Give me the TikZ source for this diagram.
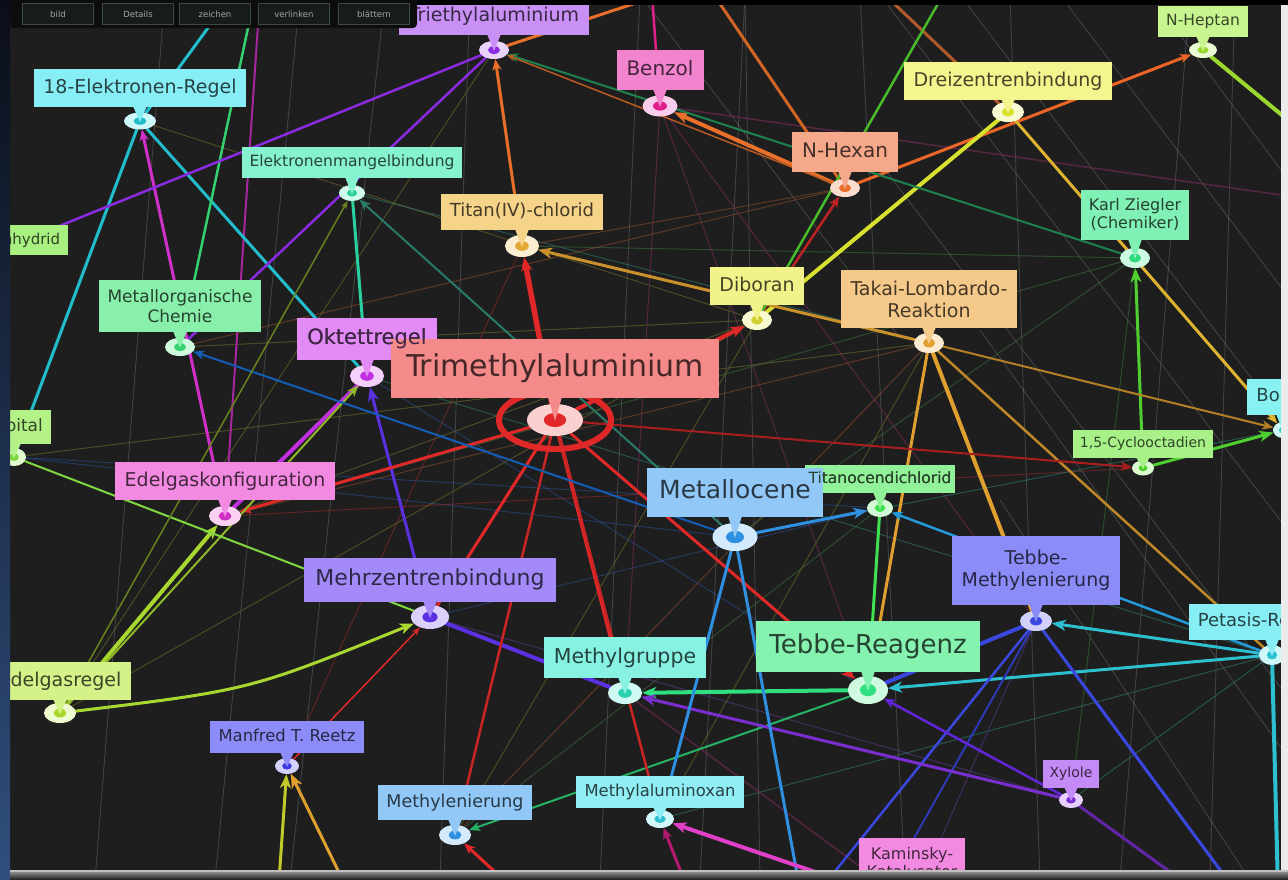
\documentclass[tikz,border=0pt]{standalone}
\usepackage{fontspec}
\setmainfont{DejaVu Sans}
\usetikzlibrary{shapes.geometric,arrows.meta}
\pgfdeclarelayer{bgl}\pgfdeclarelayer{edgel}\pgfdeclarelayer{fgl}
\pgfsetlayers{bgl,edgel,main,fgl}
\definecolor{panel}{HTML}{1E1E1E}
\definecolor{teaL}{HTML}{C890F5}\definecolor{teaD}{HTML}{8A2BE2}
\definecolor{e18L}{HTML}{88EEF5}\definecolor{e18D}{HTML}{22BCCB}
\definecolor{benzL}{HTML}{F283CF}\definecolor{benzD}{HTML}{E0208A}
\definecolor{hexL}{HTML}{F5A98A}\definecolor{hexD}{HTML}{E8702A}
\definecolor{dreiL}{HTML}{F5F590}\definecolor{dreiD}{HTML}{D8E030}
\definecolor{heptL}{HTML}{C9F590}\definecolor{heptD}{HTML}{9AD830}
\definecolor{emangL}{HTML}{86F2D0}\definecolor{emangD}{HTML}{2CCFA0}
\definecolor{titanL}{HTML}{F5D389}\definecolor{titanD}{HTML}{E0A830}
\definecolor{hydL}{HTML}{A8F080}\definecolor{hydD}{HTML}{60D040}
\definecolor{ziegL}{HTML}{80F0B4}\definecolor{ziegD}{HTML}{30D880}
\definecolor{morgL}{HTML}{88F0AA}\definecolor{morgD}{HTML}{36D070}
\definecolor{dibL}{HTML}{F2F28A}\definecolor{dibD}{HTML}{D0D030}
\definecolor{takaiL}{HTML}{F5C98A}\definecolor{takaiD}{HTML}{E0A030}
\definecolor{oktL}{HTML}{E28AF5}\definecolor{oktD}{HTML}{C030E0}
\definecolor{tmaL}{HTML}{F58A8A}\definecolor{tmaD}{HTML}{E02828}
\definecolor{orbL}{HTML}{B4F288}\definecolor{orbD}{HTML}{80D840}
\definecolor{boL}{HTML}{88F2F2}\definecolor{boD}{HTML}{30D0D0}
\definecolor{codL}{HTML}{A8F088}\definecolor{codD}{HTML}{50D030}
\definecolor{egkL}{HTML}{F28AE2}\definecolor{egkD}{HTML}{D030C8}
\definecolor{mcenL}{HTML}{92C8F8}\definecolor{mcenD}{HTML}{2F8FE0}
\definecolor{tcenL}{HTML}{92F29A}\definecolor{tcenD}{HTML}{40E050}
\definecolor{tebmL}{HTML}{8C8CF8}\definecolor{tebmD}{HTML}{3A48E0}
\definecolor{mehrL}{HTML}{A48AF8}\definecolor{mehrD}{HTML}{5A30E0}
\definecolor{petL}{HTML}{88EEF5}\definecolor{petD}{HTML}{2CC0D0}
\definecolor{tebrL}{HTML}{86F2B0}\definecolor{tebrD}{HTML}{30E080}
\definecolor{megrL}{HTML}{88F2E2}\definecolor{megrD}{HTML}{2CD0B0}
\definecolor{egrL}{HTML}{D4F288}\definecolor{egrD}{HTML}{A8D830}
\definecolor{reetzL}{HTML}{8C8CF8}\definecolor{reetzD}{HTML}{3A3AE0}
\definecolor{xylL}{HTML}{C48AF5}\definecolor{xylD}{HTML}{7A2ED0}
\definecolor{mlenL}{HTML}{92C8F8}\definecolor{mlenD}{HTML}{2F8FE0}
\definecolor{maoL}{HTML}{92EEF5}\definecolor{maoD}{HTML}{2CC0D0}
\definecolor{kamL}{HTML}{F28AE2}\definecolor{kamD}{HTML}{E040C8}
\definecolor{k1}{HTML}{6B6B2A}\definecolor{k2}{HTML}{2A7A6A}
\definecolor{k3}{HTML}{8A4A2A}\definecolor{k4}{HTML}{7A2A5A}
\definecolor{k5}{HTML}{2A4A8A}\definecolor{k6}{HTML}{3A6A3A}
\definecolor{k7}{HTML}{5A3A8A}\definecolor{k8}{HTML}{8A2A2A}
\definecolor{btnfill}{HTML}{161C1A}\definecolor{btnedge}{HTML}{3C4A44}
\tikzset{
  pinnode/.style={ellipse, inner sep=0pt, draw=none},
  lb/.style={rectangle, inner xsep=\fpeval{0.5*#1}pt, inner ysep=\fpeval{0.5*#1}pt, text height=\fpeval{0.75*#1}pt, text depth=\fpeval{0.22*#1}pt},
  lbn/.style={rectangle, inner xsep=\fpeval{0.25*#1}pt, inner ysep=\fpeval{0.4*#1}pt, text height=\fpeval{0.75*#1}pt, text depth=\fpeval{0.22*#1}pt},
  lb2/.style={rectangle, align=center, inner xsep=\fpeval{0.5*#1}pt, inner ysep=\fpeval{0.55*#1}pt},
  lbt/.style={rectangle, align=center, inner xsep=\fpeval{0.5*#1}pt, inner ysep=\fpeval{0.75*#1}pt},
  ed/.style={line width=#1pt, line cap=round},
  ar/.style={-{Stealth[length=14pt,width=11pt,inset=4pt]}},
  arm/.style={-{Stealth[length=11pt,width=9pt,inset=3pt]}},
  ars/.style={-{Stealth[length=8pt,width=6pt,inset=2pt]}},
  thn/.style={line width=1pt, opacity=0.6},
  faint/.style={line width=0.9pt, draw=white, opacity=0.16},
  tbtn/.style={draw=btnedge, fill=btnfill, text=gray!70, font=\fontsize{8.5}{10}\selectfont, minimum height=21pt, minimum width=71pt, inner sep=0pt}
}
\newcommand\gpin[6]{%
  \node[pinnode, fill=#4L!40!white, minimum width=#5pt, minimum height=#6pt] (#1) at (#2,#3) {};
  \fill[#4D] (#1.center) ellipse ({0.2*#5pt} and {0.22*#6pt});
}
\newcommand\glab[6]{%
  \fill[#2L] ([shift={(-7pt,#4pt+1pt)}]#1.center) -- ([shift={(7pt,#4pt+1pt)}]#1.center) -- ([yshift=-1pt]#1.center) -- cycle;
  \node[#6=#3, fill=#2L, text=#2L!28!black, font=\fontsize{#3}{\fpeval{1.15*#3}}\selectfont, anchor=south] (#1-l) at ([yshift=#4pt]#1.center) {#5};
}
% text only, laid over a label box that another box partly hides
\newcommand\gtxt[6]{%
  \node[#6=#3, text=#2L!28!black, font=\fontsize{#3}{\fpeval{1.15*#3}}\selectfont, anchor=south] (#1-t) at ([yshift=#4pt]#1.center) {#5};
}
\begin{document}
\begin{tikzpicture}[x=1pt,y=-1pt]
\useasboundingbox (0,0) rectangle (1288,879);
\begin{pgfonlayer}{bgl}
  \fill[panel] (0,0) rectangle (1288,879);
  \foreach \a/\b in {95/165,215/300,290/385,440/470,600/640,700/745,760/745,905/860,1040/1010,1120/1190,1210/1235}
    \draw[faint] (\a,880) -- (\b,-5);
  \foreach \a/\b in {880/1290,960/1290,1060/1290,1150/1290,640/900}
    \draw[faint] (\a,-5) -- (\b,{(\b-\a)*1.3});
  \draw[faint] (870,150) -- (1290,700);
  \draw[faint] (980,330) -- (1290,760);
  \draw[faint] (1000,500) -- (1250,880);
\end{pgfonlayer}
% ---------- pins ----------
\draw[tmaD, line width=6pt] (555,420) ellipse (56pt and 29pt);
\gpin{tea}{494}{50}{tea}{30}{18}
\gpin{e18}{140}{121}{e18}{32}{17}
\gpin{benz}{660}{106}{benz}{35}{21}
\gpin{hex}{845}{188}{hex}{30}{18}
\gpin{drei}{1008}{112}{drei}{32}{20}
\gpin{hept}{1203}{50}{hept}{28}{16}
\gpin{emang}{352}{193}{emang}{26}{16}
\gpin{titan}{522}{246}{titan}{34}{22}
\gpin{hyd}{-4}{270}{hyd}{26}{16}
\gpin{zieg}{1135}{258}{zieg}{30}{20}
\gpin{morg}{180}{347}{morg}{30}{18}
\gpin{dib}{757}{320}{dib}{30}{20}
\gpin{takai}{929}{343}{takai}{30}{20}
\gpin{okt}{367}{376}{okt}{34}{22}
\gpin{tma}{555}{420}{tma}{56}{32}
\gpin{orb}{14}{457}{orb}{24}{18}
\gpin{bo}{1283}{430}{bo}{20}{16}
\gpin{cod}{1143}{468}{cod}{22}{15}
\gpin{egk}{225}{516}{egk}{32}{20}
\gpin{mcen}{735}{537}{mcen}{45}{28}
\gpin{tcen}{880}{508}{tcen}{26}{18}
\gpin{tebm}{1036}{621}{tebm}{32}{20}
\gpin{mehr}{430}{617}{mehr}{38}{24}
\gpin{pet}{1272}{655}{pet}{26}{20}
\gpin{tebr}{868}{690}{tebr}{40}{28}
\gpin{megr}{625}{693}{megr}{34}{22}
\gpin{egr}{60}{713}{egr}{32}{20}
\gpin{reetz}{287}{766}{reetz}{24}{16}
\gpin{xyl}{1071}{800}{xyl}{24}{16}
\gpin{mlen}{455}{835}{mlen}{32}{20}
\gpin{mao}{660}{819}{mao}{28}{18}
\gpin{kam}{912}{905}{kam}{30}{20}
% ---------- free ends ----------
\coordinate (oh1) at (1300,130);
\coordinate (op1) at (1278,890);
\coordinate (otm1) at (820,890);
\coordinate (otm2) at (885,890);
\coordinate (otm3) at (1235,890);
\coordinate (ox1) at (1195,890);
\coordinate (oe1) at (260,-5);
\coordinate (oe18) at (232,-5);
\coordinate (om1) at (255,-5);
\coordinate (or1) at (520,895);
\coordinate (omc1) at (800,890);
\coordinate (opk) at (690,895);
\coordinate (ory) at (278,895);
\coordinate (oro) at (350,895);
\coordinate (ot1) at (0,250);
\coordinate (ob1) at (652,-5);
\coordinate (ob3) at (1295,197);
\coordinate (ot2) at (660,-5);
\coordinate (oh2) at (714,-5);
\coordinate (od1) at (885,-5);
\coordinate (odg) at (943,-5);
% ---------- connectors ----------
\begin{pgfonlayer}{edgel}
\begin{scope}[thn]
  \draw[k1] (e18) -- (dib);
  \draw[k2] (emang) -- (takai);
  \draw[k6] (titan) -- (zieg);
  \draw[k3] (titan) -- (hex);
  \draw[k4] (benz) -- (tebr);
  \draw[k4] (benz) -- (tebm);
  \draw[k1] (dib) -- (morg);
  \draw[k1] (dib) -- (egk);
  \draw[k3] (takai) -- (egk);
  \draw[k3] (takai) -- (mlen);
  \draw[k2] (okt) -- (pet);
  \draw[k5] (okt) -- (tebr);
  \draw[k2] (morg) -- (mcen);
  \draw[k5] (orb) -- (tcen);
  \draw[k5] (orb) -- (mcen);
  \draw[k8] (egk) -- (cod);
  \draw[k3] (hex) -- (morg);
  \draw[k6] (zieg) -- (mcen);
  \draw[k6] (zieg) -- (egk);
  \draw[k6] (tcen) -- (mlen);
  \draw[k7] (mehr) -- (xyl);
  \draw[k1] (mao) -- (takai);
  \draw[k2] (mao) -- (pet);
  \draw[k6] (xyl) -- (zieg);
  \draw[k2] (xyl) -- (pet);
  \draw[k7] (kam) -- (tebm);
  \draw[k1] (mlen) -- (dib);
  \draw[k1] (egr) -- (tea);
  \draw[k1] (orb) -- (takai);
  \draw[k2] (bo) -- (mcen);
  \draw[k4, line width=1.5pt] (benz) -- (ob3);
  \draw[k8] (reetz) -- (titan);
  \draw[k1] (egr) -- (dib);
  \draw[k5] (mehr) -- (tcen);
  \draw[k4, line width=1.5pt] (megr) -- (kam);
  \draw[k4] (benz) -- (megr);
\end{scope}
\draw[ed=5.5,draw=tmaD,ar] (tma) -- (titan);
\draw[ed=3,draw=hexD,arm] (titan) -- (tea);
\draw[ed=4,draw=tmaD,ar] (tma) -- (dib);
\draw[ed=2.5,draw=tmaD!85!black,arm] (dib) -- (hex);
\draw[ed=4,draw=hexD,ar] (hex) -- (benz);
\draw[ed=3,draw=hexD!90!red,arm] (hex) -- (hept);
\draw[ed=4,draw=dreiD] (drei) -- (dib);
\draw[ed=3,draw=takaiD!70!dreiD,arm] (drei) -- (bo);
\draw[ed=4,draw=heptD] (hept) -- (oh1);
\draw[ed=3,draw=codD,ar] (cod) -- (zieg);
\draw[ed=3,draw=codD,ar] (cod) -- (bo);
\draw[ed=2,draw=takaiD!80!black,arm] (takai) -- (bo);
\draw[ed=4,draw=takaiD] (takai) -- (tebm);
\draw[ed=3,draw=takaiD] (takai) -- (tebr);
\draw[ed=2.5,draw=takaiD!85!black] (takai) -- (pet);
\draw[ed=3,draw=takaiD!90!black,ar] (takai) -- (titan);
\draw[ed=2,draw=tmaD!75!black,arm] (tma) -- (cod);
\draw[ed=3,draw=mcenD,ar] (mcen) -- (tcen);
\draw[ed=2.5,draw=petD!80!blue,arm] (pet) -- (tcen);
\draw[ed=3,draw=tcenD] (tcen) -- (tebr);
\draw[ed=4,draw=tebrD,ar] (tebr) -- (megr);
\draw[ed=2,draw=tebrD!80!black,arm] (tebr) -- (mlen);
\draw[ed=3,draw=petD,ar] (pet) -- (tebm);
\draw[ed=3,draw=petD,ar] (pet) -- (tebr);
\draw[ed=4,draw=petD] (pet) -- (op1);
\draw[ed=4,draw=tebmD] (tebm) -- (tebr);
\draw[ed=2.5,draw=tebmD] (tebm) -- (otm1);
\draw[ed=2,draw=tebmD!80!black] (tebm) -- (otm2);
\draw[ed=3,draw=tebmD] (tebm) -- (otm3);
\draw[ed=3,draw=xylD,ar] (xyl) -- (megr);
\draw[ed=3,draw=xylD!80!black] (xyl) -- (ox1);
\draw[ed=2.5,draw=xylD!80!blue,arm] (xyl) -- (tebr);
\draw[ed=4,draw=mehrD] (mehr) -- (megr);
\draw[ed=3,draw=mehrD,ar] (mehr) -- (okt);
\draw[ed=4,draw=oktD] (egk) -- (okt);
\draw[ed=3,draw=egkD,arm] (egk) -- (e18);
\draw[ed=2,draw=egkD!80!black] (egk) -- (oe1);
\draw[ed=3,draw=tmaD,arm] (tma) -- (egk);
\draw[ed=4,draw=egrD,ar] (egr) -- (egk);
\draw[ed=2,draw=egrD!85!black,arm] (egr) -- (okt);
\draw[ed=3,draw=egrD,ar] (egr) .. controls (250,690) .. (mehr);
\draw[ed=2,draw=orbD] (orb) -- (mehr);
\draw[ed=3,draw=e18D] (e18) -- (okt);
\draw[ed=3,draw=e18D] (e18) -- (orb);
\draw[ed=3,draw=e18D] (e18) -- (oe18);
\draw[ed=3,draw=emangD] (emang) -- (okt);
\draw[ed=2.5,draw=morgD] (morg) -- (om1);
\draw[ed=4,draw=tmaD] (tma) -- (megr);
\draw[ed=3,draw=tmaD] (tma) -- (mehr);
\draw[ed=3,draw=tmaD,ar] (tma) -- (tebr);
\draw[ed=2.5,draw=tmaD!90!black] (tma) -- (mao);
\draw[ed=2.5,draw=tmaD!90!black] (tma) -- (mlen);
\draw[ed=3,draw=tmaD,arm] (or1) -- (mlen);
\draw[ed=3,draw=mcenD] (mcen) -- (mao);
\draw[ed=3,draw=mcenD] (mcen) -- (omc1);
\draw[ed=4,draw=kamD,ar] (kam) -- (mao);
\draw[ed=3,draw=benzD!80!black,arm] (opk) -- (mao);
\draw[ed=3,draw=dreiD!90!black,ar] (ory) -- (reetz);
\draw[ed=3,draw=takaiD,ar] (oro) -- (reetz);
\draw[ed=1.5,draw=tmaD,ars] (reetz) -- (mehr);
\draw[ed=2,draw=petD!60!blue!80!black,arm] (mcen) -- (morg);
\draw[ed=2,draw=ziegD!60!black,arm] (zieg) -- (tea);
\draw[ed=1.5,draw=hexD!80!black,ars] (hex) -- (tea);
\draw[ed=2.5,draw=teaD] (tea) -- (ot1);
\draw[ed=2.5,draw=teaD] (tea) -- (morg);
\draw[ed=1.5,draw=egrD!60!black,ars] (egr) -- (emang);
\draw[ed=2,draw=k2,arm] (mcen) -- (emang);
\draw[ed=2.5,draw=benzD] (benz) -- (ob1);
\draw[ed=3,draw=hexD] (tea) -- (ot2);
\draw[ed=3,draw=hexD!90!black] (hex) -- (oh2);
\draw[ed=3,draw=k3!60!hexD] (drei) -- (od1);
\draw[ed=2.5,draw=codD!90!black] (dib) -- (odg);
\end{pgfonlayer}
% ---------- labels ----------
\glab{tea}{tea}{19}{15}{Triethylaluminium}{lb}
\glab{e18}{e18}{19}{14}{18-Elektronen-Regel}{lb}
\glab{benz}{benz}{20}{16}{Benzol}{lb}
\glab{hex}{hex}{20}{16}{N-Hexan}{lb}
\glab{drei}{drei}{19}{12}{Dreizentrenbindung}{lb}
\glab{hept}{hept}{15.5}{13}{N-Heptan}{lb}
\glab{emang}{emang}{15.5}{15}{Elektronenmangelbindung}{lb}
\glab{titan}{titan}{18}{16}{Titan(IV)-chlorid}{lb}
\glab{hyd}{hyd}{15}{15}{Aluminiumhydrid}{lb}
\glab{zieg}{zieg}{16}{18}{Karl Ziegler\\(Chemiker)}{lb2}
\glab{morg}{morg}{17}{15}{Metallorganische\\Chemie}{lb2}
\glab{dib}{dib}{19}{15}{Diboran}{lb}
\glab{takai}{takai}{19}{15}{Takai-Lombardo-\\Reaktion}{lb2}
\glab{okt}{okt}{21}{16}{Oktettregel}{lb}
\glab{tma}{tma}{30}{22}{Trimethylaluminium}{lb}
\gtxt{okt}{okt}{21}{16}{Oktettregel}{lb}
\glab{orb}{orb}{17}{13}{Orbital}{lb}
\glab{bo}{bo}{18}{15}{Boran}{lb}
\glab{cod}{cod}{14}{10}{1,5-Cyclooctadien}{lb}
\glab{egk}{egk}{19}{16}{Edelgaskonfiguration}{lb}
\glab{tcen}{tcen}{15.5}{15}{Titanocendichlorid}{lbn}
\glab{mcen}{mcen}{25}{20}{Metallocene}{lb}
\gtxt{tcen}{tcen}{15.5}{15}{Titanocendichlorid}{lbn}
\glab{tebm}{tebm}{19}{16}{Tebbe-\\Methylenierung}{lbt}
\glab{mehr}{mehr}{22}{15}{Mehrzentrenbindung}{lb}
\glab{pet}{pet}{18}{15}{Petasis-Reaktion}{lb}
\glab{tebr}{tebr}{26}{18}{Tebbe-Reagenz}{lb}
\glab{megr}{megr}{20.5}{15}{Methylgruppe}{lb}
\glab{egr}{egr}{19}{13}{Edelgasregel}{lb}
\glab{reetz}{reetz}{16.4}{13}{Manfred T. Reetz}{lb}
\glab{xyl}{xyl}{14}{12}{Xylole}{lb}
\glab{mlen}{mlen}{17.5}{15}{Methylenierung}{lb}
\glab{mao}{mao}{16.4}{11}{Methylaluminoxan}{lb}
\glab{kam}{kam}{16}{15}{Kaminsky-\\Katalysator}{lb2}
% ---------- frame ----------
\begin{pgfonlayer}{fgl}
  \fill[black] (0,0) rectangle (1288,5);
  \shade[top color={rgb,255:red,10;green,14;blue,24}, bottom color={rgb,255:red,48;green,78;blue,125}] (0,0) rectangle (10,879);
  \fill[black!8] (1281,5) rectangle (1288,870);
  \shade[top color=black!35, bottom color=black!85] (10,870) rectangle (1288,879);
  \draw[black!25, line width=2.5pt] (10,871) -- (1288,871);
  \fill[black!95, rounded corners=4pt] (10,-5) rectangle (417,28);
  \node[tbtn] (b1) at (58,14) {bild};
  \node[tbtn] (b2) at (138,14) {Details};
  \node[tbtn] (b3) at (215,14) {zeichen};
  \node[tbtn] (b4) at (294,14) {verlinken};
  \node[tbtn] (b5) at (374,14) {blättern};
\end{pgfonlayer}
\end{tikzpicture}
\end{document}
